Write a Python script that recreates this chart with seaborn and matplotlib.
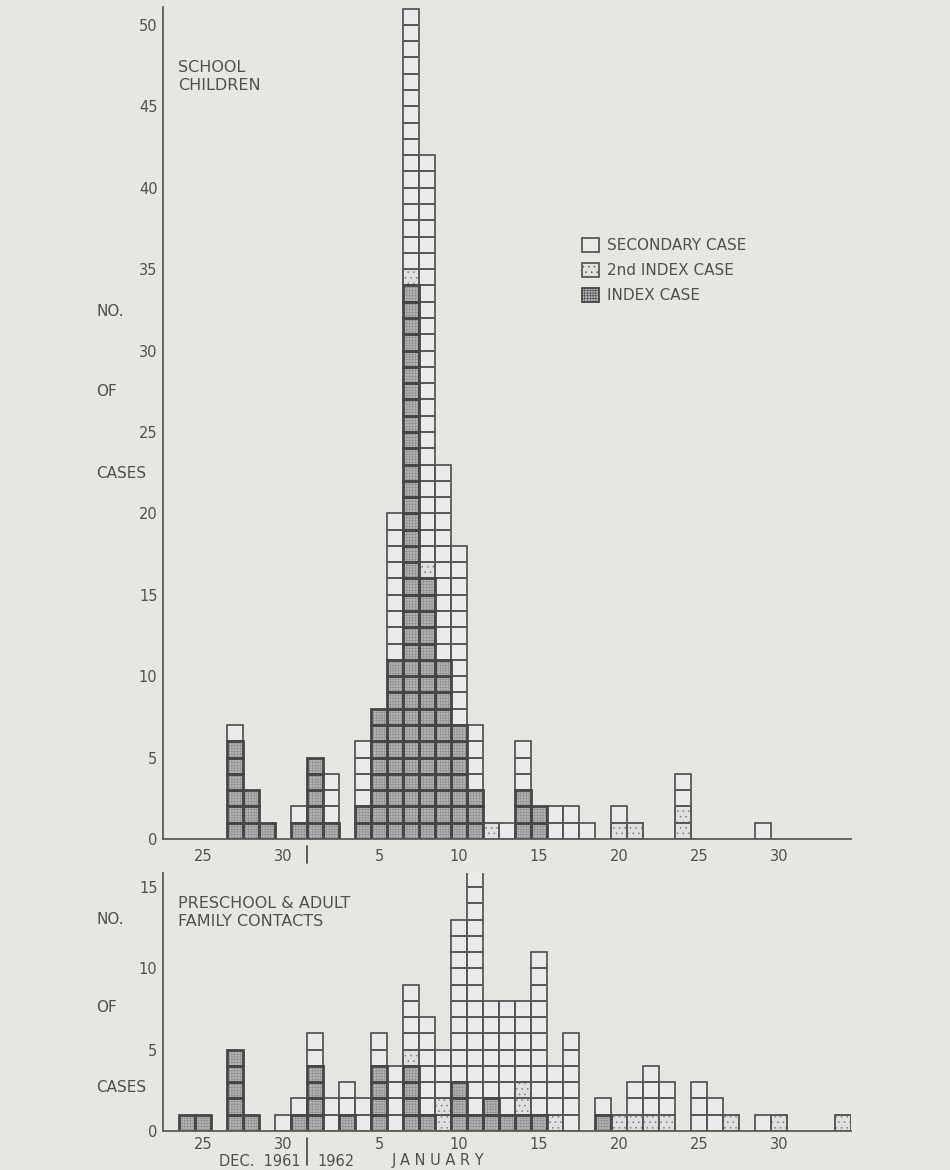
import numpy as np
import pandas as pd
import seaborn as sns
import matplotlib.pyplot as plt
from matplotlib.patches import Patch

# day positions: Jan d -> d, Dec d -> d - 31 (so Dec 31 = 0, Feb 3 = 34)
school_days = [-4, -3, -2, 0, 1, 2, 4, 5, 6, 7, 8, 9, 10, 11, 12, 13, 14, 15, 16, 17, 18, 20, 21, 24, 29]
school_index = [6, 3, 1, 1, 5, 1, 2, 8, 11, 34, 16, 11, 7, 3, 0, 0, 3, 2, 0, 0, 0, 0, 0, 0, 0]
school_second = [0, 0, 0, 0, 0, 0, 0, 0, 0, 1, 1, 0, 0, 0, 1, 0, 0, 0, 0, 0, 0, 1, 1, 2, 0]
school_secondary = [1, 0, 0, 1, 0, 3, 4, 0, 9, 16, 25, 12, 11, 4, 0, 1, 3, 0, 2, 2, 1, 1, 0, 2, 1]

family_days = [-7, -6, -4, -3, -1, 0, 1, 2, 3, 4, 5, 6, 7, 8, 9, 10, 11, 12, 13, 14, 15, 16, 17,
               19, 20, 21, 22, 23, 25, 26, 27, 29, 30, 34]
family_index = [1, 1, 5, 1, 0, 1, 4, 0, 1, 0, 4, 0, 4, 1, 0, 3, 1, 2, 1, 1, 1, 0, 0,
                1, 0, 0, 0, 0, 0, 0, 0, 0, 0, 0]
family_second = [0, 0, 0, 0, 0, 0, 0, 0, 0, 0, 0, 0, 1, 0, 2, 0, 0, 0, 0, 2, 0, 1, 0,
                 0, 1, 1, 1, 1, 0, 0, 1, 0, 1, 1]
family_secondary = [0, 0, 0, 0, 1, 1, 2, 2, 2, 2, 2, 4, 4, 6, 3, 10, 15, 6, 7, 5, 10, 3, 6,
                    1, 0, 2, 3, 2, 3, 2, 0, 1, 0, 0]

tick_days = [-6, -1, 5, 10, 15, 20, 25, 30]
tick_labels = ["25", "30", "5", "10", "15", "20", "25", "30"]

case_types = ["INDEX CASE", "2nd INDEX CASE", "SECONDARY CASE"]

BG = "#e6e6e3"
INK = "#505050"

sns.set_theme(style="white")
plt.rcParams["font.family"] = ["DejaVu Sans"]
plt.rcParams["hatch.linewidth"] = 0.4

# fill layer (texture) and outline layer for each kind of case
fills = {
    "INDEX CASE": dict(facecolor="#b3b3b1", edgecolor="#8c8c8a", hatch="++++++", linewidth=0),
    "2nd INDEX CASE": dict(facecolor="#e0e0de", edgecolor="#7a7a78", hatch="...", linewidth=0),
    "SECONDARY CASE": dict(facecolor="#eaeae8", linewidth=0),
}
outlines = {
    "INDEX CASE": dict(edgecolor="#464646", linewidth=2.0),
    "2nd INDEX CASE": dict(edgecolor="#585858", linewidth=1.4),
    "SECONDARY CASE": dict(edgecolor="#585858", linewidth=1.3),
}


def to_long(days, index, second, secondary):
    rows = []
    for d, a, b, c in zip(days, index, second, secondary):
        level = 0
        for kind, n in zip(case_types, (a, b, c)):
            for _ in range(n):
                rows.append({"day": d, "level": level, "kind": kind})
                level += 1
    return pd.DataFrame(rows)


def draw_panel(ax, df, ytop, yticks, xpad):
    # one unit square per case, stacked index -> 2nd index -> secondary
    for kind in case_types:
        sub = df[df.kind == kind]
        ax.bar(sub.day, 1, bottom=sub.level, width=1, zorder=2, **fills[kind])
    for kind in ["SECONDARY CASE", "2nd INDEX CASE", "INDEX CASE"]:
        sub = df[df.kind == kind]
        ax.bar(sub.day, 1, bottom=sub.level, width=1, zorder=3, fill=False, **outlines[kind])
    ax.set_xlim(-8.5, 34.5)
    ax.set_ylim(0, ytop)
    ax.set_facecolor(BG)
    ax.set_axisbelow(True)
    sns.despine(ax=ax)
    for s in ("left", "bottom"):
        ax.spines[s].set_color("#5c5c5c")
        ax.spines[s].set_linewidth(1.3)
        ax.spines[s].set_zorder(4)
    ax.set_yticks(yticks)
    ax.set_yticklabels([str(v) for v in yticks])
    ax.tick_params(axis="y", direction="in", length=5, width=1, color="#5c5c5c",
                   labelsize=10.5, labelcolor=INK, pad=4)
    ax.set_xticks(tick_days)
    ax.set_xticklabels(tick_labels)
    ax.set_xticks(np.arange(-7.5, 34.5, 1), minor=True)
    ax.tick_params(axis="x", which="major", length=0, labelsize=10.5, labelcolor=INK, pad=xpad)
    ax.tick_params(axis="x", which="minor", direction="in", length=5, width=1, color="#5c5c5c")
    ax.set_xlabel("")
    ax.set_ylabel("")


school_df = to_long(school_days, school_index, school_second, school_secondary)
family_df = to_long(family_days, family_index, family_second, family_secondary)

W, H = 950, 1170
fig = plt.figure(figsize=(W / 100, H / 100), dpi=100)
fig.patch.set_facecolor(BG)

ax1 = fig.add_axes([163 / W, (H - 839) / H, 688 / W, 832 / H])
ax2 = fig.add_axes([163 / W, (H - 1131) / H, 688 / W, 258 / H])

draw_panel(ax1, school_df, 51.1, list(range(0, 51, 5)), 7)
draw_panel(ax2, family_df, 15.86, [0, 5, 10, 15], 4)

# year divider marks under the axes
ax1.plot([0.5, 0.5], [-0.4, -1.45], color=INK, lw=1.3, clip_on=False)
ax2.plot([0.5, 0.5], [-0.4, -2.1], color=INK, lw=1.3, clip_on=False)


def ftext(x, y, s, **kw):
    fig.text(x / W, 1 - y / H, s, color=INK, va="center", **kw)


ftext(178, 68, "SCHOOL", fontsize=11.5)
ftext(178, 86, "CHILDREN", fontsize=11.5)
ftext(178, 903, "PRESCHOOL & ADULT", fontsize=11.5)
ftext(178, 922, "FAMILY CONTACTS", fontsize=11.5)

for y, s in [(312, "NO."), (392, "OF"), (473, "CASES"),
             (920, "NO."), (1008, "OF"), (1088, "CASES")]:
    ftext(96, y, s, fontsize=11)

ftext(260, 1161, "DEC.  1961", fontsize=10.5, ha="center")
ftext(336, 1161, "1962", fontsize=10.5, ha="center")
ftext(438, 1161, "J A N U A R Y", fontsize=10.5, ha="center")

legend_order = ["SECONDARY CASE", "2nd INDEX CASE", "INDEX CASE"]
handles = [Patch(facecolor=fills[k]["facecolor"], hatch=fills[k].get("hatch"),
                 edgecolor=outlines[k]["edgecolor"], linewidth=1.3) for k in legend_order]
leg = fig.legend(handles, legend_order,
                 loc="upper left", bbox_to_anchor=(568 / W, 1 - 224 / H),
                 frameon=False, handlelength=1.1, handleheight=1.1, handletextpad=0.55,
                 labelspacing=0.62, fontsize=11)
for t in leg.get_texts():
    t.set_color(INK)

fig.savefig("out.png", dpi=100, facecolor=BG)
